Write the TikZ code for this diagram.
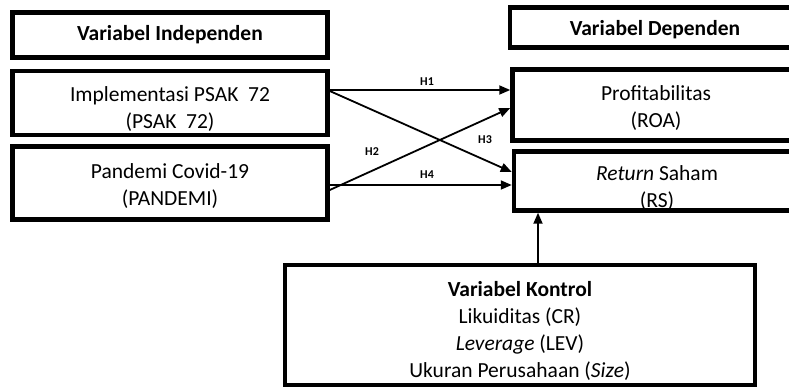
\documentclass[tikz,border=0pt]{standalone}
\usepackage{fontspec}
\setmainfont{Carlito}
\usetikzlibrary{arrows.meta}
\newcommand{\topstrut}[1]{\rule{0pt}{#1pt}}
\tikzset{
	varbox/.style={draw, line width=4.5pt, align=center, inner sep=0pt,
		font=\fontsize{21.5}{27}\selectfont},
	hyp/.style={line width=1.8pt, -{Triangle[length=11pt,width=9pt]}},
	hlab/.style={font=\fontsize{12}{13}\selectfont\bfseries}
}
\begin{document}
\begin{tikzpicture}[x=1pt, y=-1pt]
	\clip (0,0) rectangle (789,387);
	% independen
	\node[varbox, minimum width=315pt, minimum height=45pt] (indep) at (170,35) {\textbf{Variabel Independen}};
	\node[varbox, minimum width=315pt, minimum height=64pt] (impl) at (170,103) {\topstrut{27}Implementasi PSAK~~72\\(PSAK~~72)};
	\node[varbox, minimum width=315pt, minimum height=73pt] (pand) at (170,183) {\topstrut{20}Pandemi Covid-19\\(PANDEMI)};
	% dependen
	\node[varbox, minimum width=290pt, minimum height=40pt] (dep) at (655,27.5) {\topstrut{19}\textbf{Variabel Dependen}};
	\node[varbox, minimum width=287pt, minimum height=71pt] (prof) at (656,105) {\topstrut{20}Profitabilitas\\(ROA)};
	\node[varbox, minimum width=286pt, minimum height=58pt] (ret) at (657,181) {\topstrut{29}\textit{Return} Saham\\(RS)};
	% kontrol
	\node[varbox, line width=4pt, minimum width=470pt, minimum height=120pt] (kontrol) at (520,325)
		{\topstrut{27}\textbf{Variabel Kontrol}\\Likuiditas (CR)\\\textit{Leverage} (LEV)\\Ukuran Perusahaan (\textit{Size})};
	% hipotesis
	\draw[hyp] ([yshift=13pt]impl.east) -- ([yshift=15pt]prof.west);
	\draw[hyp] ([yshift=12pt]impl.east) -- ([yshift=9pt]ret.west);
	\draw[hyp] ([yshift=-7pt]pand.east) -- ([yshift=-3pt]prof.west);
	\draw[hyp] ([yshift=-2pt]pand.east) -- ([yshift=-4pt]ret.west);
	\draw[hyp] (kontrol.north -| 538,0) -- (ret.south -| 538,0);
	\node[hlab] (h1) at (427,82) {H1};
	\node[hlab] (h2) at (372,152) {H2};
	\node[hlab] (h3) at (485,140) {H3};
	\node[hlab] (h4) at (427,175) {H4};
\end{tikzpicture}
\end{document}
